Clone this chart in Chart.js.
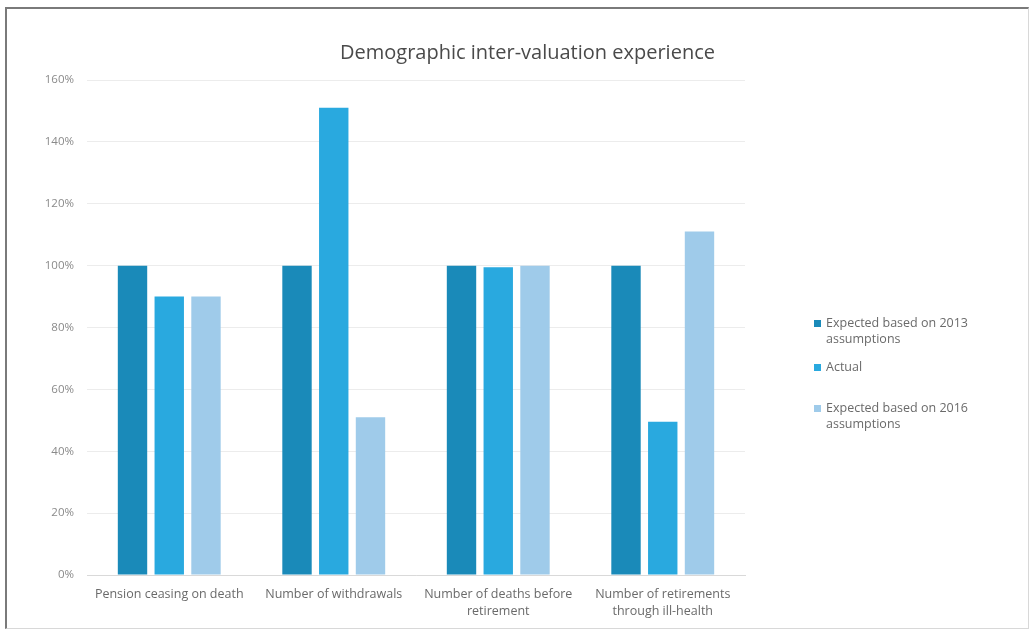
<!DOCTYPE html>
<html>
<head>
<meta charset="utf-8">
<script src="https://cdn.jsdelivr.net/npm/chart.js@4"></script>
<style>
  html, body { margin: 0; padding: 0; background: #fff; }
  #wrap { position: relative; width: 1036px; height: 637px; overflow: hidden; }
  #frame { position: absolute; left: 5px; top: 7px; width: 1024px; height: 622px;
           border-left: 2px solid #7a7a7a; border-top: 2px solid #7a7a7a;
           border-right: 1px solid #d8d8d8; border-bottom: 1px solid #d8d8d8; box-sizing: border-box; }
  #title { position: absolute; left: 280px; width: 495px; top: 38px; text-align: center;
           font-family: "Open Sans", "Noto Sans", sans-serif; font-size: 20px; color: #4a4a4a; }
  #legend { position: absolute; left: 813px; top: 315px; width: 210px;
            font-family: "Open Sans", "Noto Sans", sans-serif; font-size: 12.5px; color: #6a6a6a; }
  .item { position: relative; padding-left: 13px; line-height: 16px; }
  .item span { position: absolute; left: 1px; top: 5px; width: 7px; height: 7px; }
  canvas { position: absolute; left: 0; top: 0; }
</style>
</head>
<body>
<div id="wrap">
  <div id="frame"></div>
  <canvas id="myChart" width="1036" height="637"></canvas>
  <div id="title">Demographic inter-valuation experience</div>
  <div id="legend"></div>
</div>
<script>
// categories and series
var categories = [
    "Pension ceasing on death",
    "Number of withdrawals",
    ["Number of deaths before", "retirement"],
    ["Number of retirements", "through ill-health"]
];
var seriesNames = [
    ["Expected based on 2013", "assumptions"],
    ["Actual"],
    ["Expected based on 2016", "assumptions"]
];
var expected2013 = [100, 100, 100, 100];
var actual = [90, 151, 99.5, 49.5];
var expected2016 = [90, 51, 100, 111];
var yTicks = [0, 20, 40, 60, 80, 100, 120, 140, 160];

var colors = ["#1a8ab9", "#29a9df", "#9fcbea"];
var values = [expected2013, actual, expected2016];

var datasets = [];
for (var i = 0; i < values.length; i++) {
    datasets.push({
        label: seriesNames[i].join(" "),
        data: values[i],
        backgroundColor: colors[i],
        borderWidth: 0,
        barPercentage: 0.8,
        categoryPercentage: 0.67
    });
}

// html legend, text wraps like the original
var legend = document.getElementById("legend");
var gaps = [0, 12, 25];
for (var i = 0; i < seriesNames.length; i++) {
    var div = document.createElement("div");
    div.className = "item";
    div.style.marginTop = gaps[i] + "px";
    div.innerHTML = '<span style="background:' + colors[i] + '"></span>' + seriesNames[i].join("<br>");
    legend.appendChild(div);
}

var ctx = document.getElementById("myChart");
var myChart = new Chart(ctx, {
    type: 'bar',
    data: {
        labels: categories,
        datasets: datasets
    },
    options: {
        responsive: false,
        animation: false,
        layout: { padding: { top: 80, left: 0, right: 291, bottom: 0 } },
        plugins: {
            legend: { display: false },
            title: { display: false },
            tooltip: { enabled: false }
        },
        scales: {
            x: {
                grid: { display: false },
                border: { color: "#d9d9d9", width: 1 },
                ticks: {
                    color: "#6a6a6a",
                    font: { family: "'Open Sans', 'Noto Sans', sans-serif", size: 12.5, lineHeight: 1.35 },
                    maxRotation: 0,
                    autoSkip: false,
                    padding: 3
                },
                afterFit: function (scale) { scale.height = 62; }
            },
            y: {
                min: 0,
                max: 160,
                afterBuildTicks: function (scale) {
                    scale.ticks = yTicks.map(function (v) { return { value: v }; });
                },
                grid: { color: "#ececec", drawTicks: false },
                border: { display: false },
                ticks: {
                    color: "#8a8a8a",
                    font: { family: "'Open Sans', 'Noto Sans', sans-serif", size: 11.5 },
                    padding: 13,
                    callback: function (v) { return v + "%"; }
                },
                afterFit: function (scale) { scale.width = 87; }
            }
        }
    }
});
</script>
</body>
</html>
